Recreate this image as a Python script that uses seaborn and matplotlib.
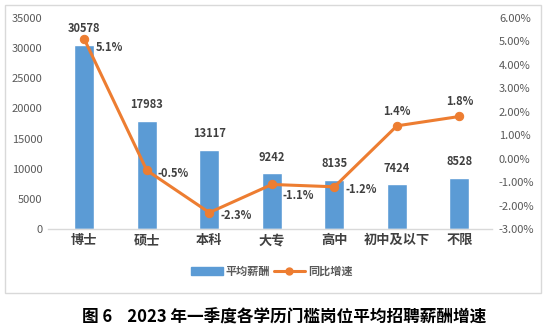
import matplotlib
matplotlib.use("Agg")
import matplotlib.pyplot as plt
import seaborn as sns
import numpy as np
import pandas as pd
from matplotlib.patches import Rectangle
from matplotlib.lines import Line2D
from matplotlib.ticker import FuncFormatter

categories = ["博士", "硕士", "本科", "大专", "高中", "初中及以下", "不限"]
salary = [30578, 17983, 13117, 9242, 8135, 7424, 8528]
growth = [5.1, -0.5, -2.3, -1.1, -1.2, 1.4, 1.8]
left_ticks = [0, 5000, 10000, 15000, 20000, 25000, 30000, 35000]
right_ticks = [-3, -2, -1, 0, 1, 2, 3, 4, 5, 6]
title = "图 6    2023 年一季度各学历门槛岗位平均招聘薪酬增速"
legend_labels = ["平均薪酬", "同比增速"]

sns.set_style("white")
plt.rcParams['font.family'] = ['Noto Sans CJK SC', 'DejaVu Sans']

BAR = "#5B9BD5"
LINE = "#ED7D31"
TICK = "#595959"
LABEL = "#404040"

df = pd.DataFrame({"cat": categories, "salary": salary, "growth": growth})
df["pos"] = np.arange(len(df))

fig = plt.figure(figsize=(5.47, 3.29), dpi=100)
ax = fig.add_axes([48/547, 1-229/329, (492-48)/547, (229-18)/329])

sns.barplot(data=df, x="cat", y="salary", color=BAR, width=0.32, ax=ax, saturation=1)
ax.set_ylim(0, 35000)
ax.set_xlim(-0.58, 6.52)
ax.set_yticks(left_ticks)
ax.set_xlabel("")
ax.set_ylabel("")
ax.tick_params(axis="y", labelsize=8, colors=TICK, length=0, pad=4)
ax.tick_params(axis="x", labelsize=9.5, colors=LABEL, length=0, pad=3)
for lbl in ax.get_xticklabels():
    lbl.set_fontweight("bold")
for s in ["top", "right", "left"]:
    ax.spines[s].set_visible(False)
ax.spines["bottom"].set_color("#D9D9D9")
ax.spines["bottom"].set_linewidth(1)

for i, v in enumerate(salary):
    ax.annotate(f"{v}", (i, v), xytext=(0, 7), textcoords="offset points",
                ha="center", va="bottom", fontsize=8, color=LABEL, fontweight="bold")

ax2 = ax.twinx()
sns.lineplot(data=df, x="pos", y="growth", color=LINE, linewidth=2.2, marker="o",
             markersize=6, markeredgecolor=LINE, ax=ax2)
ax2.set_ylim(-3, 6)
ax2.set_xlim(-0.58, 6.52)
ax2.set_yticks(right_ticks)
ax2.yaxis.set_major_formatter(FuncFormatter(lambda v, p: f"{v:.2f}%"))
ax2.set_ylabel("")
ax2.set_xlabel("")
ax2.tick_params(axis="y", labelsize=8, colors=TICK, length=0, pad=5)
for s in ["top", "right", "left", "bottom"]:
    ax2.spines[s].set_visible(False)

for i, g in enumerate(growth):
    if i >= 5:
        ax2.annotate(f"{g}%", (i, g), xytext=(0, 6), textcoords="offset points",
                     ha="center", va="bottom", fontsize=8, color=LABEL, fontweight="bold")
    else:
        dy = -8 if i == 3 else (-6 if i == 0 else -2)
        ax2.annotate(f"{g}%", (i, g), xytext=(8, dy), textcoords="offset points",
                     ha="left", va="center", fontsize=8, color=LABEL, fontweight="bold")

handles = [Rectangle((0, 0), 1, 1, color=BAR),
           Line2D([0], [0], color=LINE, linewidth=2.2, marker="o", markersize=5)]
leg = fig.legend(handles, legend_labels, loc="center", bbox_to_anchor=(272/547, 1-271/329),
                 ncol=2, frameon=False, fontsize=8, handlelength=2.8, columnspacing=0.3,
                 handletextpad=0.3)
for t in leg.get_texts():
    t.set_color(TICK)
    t.set_fontweight("bold")

frame = Rectangle((5/547, 1-293/329), 536/547, 288/329, transform=fig.transFigure,
                  fill=False, edgecolor="#D9D9D9", linewidth=1)
fig.add_artist(frame)

fig.text(284/547, 1-318/329, title, ha="center", va="center", fontsize=12,
         fontweight="bold", color="black")

fig.savefig("out.png", dpi=100)
